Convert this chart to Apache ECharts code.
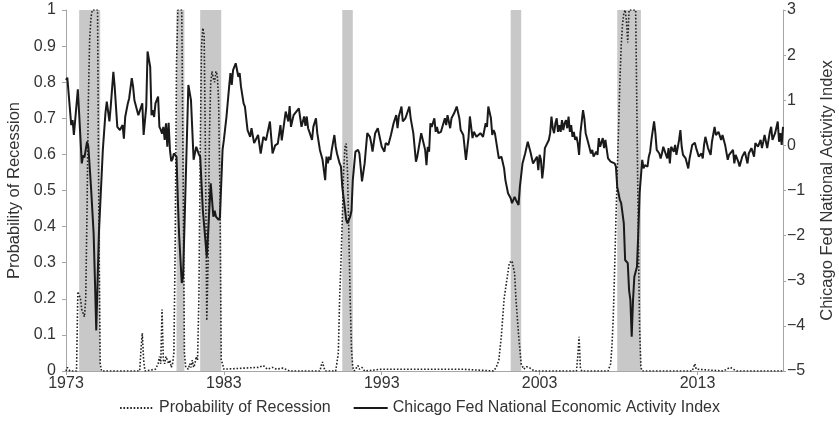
<!DOCTYPE html>
<html>
<head>
<meta charset="utf-8">
<script src="https://cdn.jsdelivr.net/npm/echarts@6/dist/echarts.min.js"></script>
<style>
html,body{margin:0;padding:0;background:#fff;}
#chart{width:839px;height:431px;}
</style>
</head>
<body>
<div id="chart"></div>
<script>
// Time is counted in months since January 1973 (0 = 1973-01).
const startYear = 1973;
const xTickYears = [1973, 1983, 1993, 2003, 2013];
const lastMonth = 545; // 2018-06

// Chicago Fed National Activity Index (right axis)
const cfnaiMonth = [0,1,4,5,6,9,12,13,14,16,17,19,21,22,23,25,28,30,31,33,34,36,37,39,41,43,44,45,47,48,50,51,52,55,56,58,59,61,62,64,65,66,67,68,70,71,72,73,74,75,76,77,78,79,80,81,82,83,84,85,86,88,89,93,95,97,99,101,102,104,107,108,110,112,113,114,116,117,119,120,122,124,125,126,127,129,131,132,133,135,136,138,140,141,143,146,148,150,152,155,157,159,161,163,164,167,169,170,171,173,177,179,181,182,183,184,185,187,188,190,191,193,195,197,198,199,200,201,202,204,205,206,208,209,210,213,214,216,217,218,220,222,223,225,227,229,231,232,233,235,237,240,242,243,245,247,249,251,252,253,255,256,258,261,262,264,266,267,268,270,271,273,274,275,276,277,278,280,281,282,283,285,288,289,290,292,293,295,297,299,300,302,304,306,307,309,310,312,315,317,319,320,321,323,324,325,326,329,331,333,334,336,338,339,341,342,344,345,347,349,351,353,355,356,358,359,360,361,362,363,364,365,367,368,369,370,371,372,373,374,375,376,377,378,379,380,381,382,383,384,385,386,387,388,389,390,391,393,394,395,397,399,400,401,403,404,405,406,408,409,410,412,414,415,417,418,419,421,422,424,425,427,428,429,430,431,432,434,435,436,438,439,440,442,443,444,445,447,448,449,451,452,453,454,455,457,458,459,460,462,463,464,466,467,468,469,471,473,474,476,478,479,481,483,484,485,486,488,490,491,493,494,495,496,498,499,501,503,504,505,507,508,509,511,512,514,516,518,519,521,523,524,526,528,529,530,531,533,535,536,537,539,541,542,543,544,545];
const cfnaiValue = [1.45,1.5,0.45,0.56,0.23,1.24,-0.4,-0.22,-0.27,0.08,-0.03,-0.92,-1.95,-3.0,-4.1,-1.95,-0.1,0.72,0.97,0.53,0.86,1.63,1.3,0.41,0.34,0.45,0.15,0.63,0.93,1.04,1.49,1.3,1.0,0.67,0.71,0.93,0.23,0.86,2.08,1.74,0.67,0.78,0.63,0.93,1.08,0.41,0.35,0.26,0.41,0.12,0.49,-0.03,0.5,-0.1,-0.35,-0.3,-0.18,-0.22,-0.25,-1.21,-2.0,-3.05,-2.9,1.34,1.0,-0.32,-0.03,-0.2,-0.25,-1.43,-2.47,-1.95,-0.84,-1.58,-1.45,-1.58,-1.65,-1.6,-0.1,0.12,0.64,1.3,1.6,1.34,1.67,1.82,1.52,1.6,1.3,0.93,0.86,0.34,0.19,0.38,0.05,0.23,-0.18,0.19,0.11,0.53,-0.18,0.0,0.04,0.45,0.11,0.75,0.53,0.87,0.41,0.67,0.82,0.41,0.64,0.43,0.64,0.38,0.30,0.12,0.41,0.6,0.27,-0.1,-0.32,-0.77,-0.25,-0.40,-0.25,-0.32,-0.1,0.23,-0.03,-0.18,-0.40,-0.47,-0.92,-1.65,-1.73,-1.58,-1.45,-0.77,-0.14,-0.1,-0.18,-0.8,-0.4,0.27,0.19,0.05,-0.14,0.27,0.38,-0.03,-0.14,0.05,0.01,0.23,0.49,0.67,0.38,0.64,0.86,0.53,0.6,0.86,0.6,0.27,-0.36,-0.25,-0.21,0.27,0.23,-0.1,-0.44,-0.03,-0.14,0.49,0.41,0.6,0.30,0.41,0.27,0.30,0.6,0.45,0.67,0.38,0.6,0.71,0.86,0.6,0.34,0.23,-0.32,0.19,0.64,0.16,0.30,0.19,0.27,0.19,0.49,0.41,0.86,0.6,0.23,0.34,0.27,-0.29,-0.25,-0.51,-0.77,-1.06,-1.17,-1.28,-1.14,-1.21,-1.32,-0.92,-0.40,-0.18,0.08,-0.14,-0.40,-0.36,-0.25,-0.55,-0.21,-0.32,-0.73,-0.47,-0.06,-0.1,0.12,0.27,0.64,0.38,0.27,0.49,0.6,0.30,0.45,0.30,0.56,0.34,0.49,0.56,0.38,0.64,0.30,0.45,0.19,0.30,0.12,0.19,0.05,-0.21,0.27,0.78,0.6,0.27,0.05,-0.18,-0.1,-0.25,-0.14,-0.21,0.16,-0.03,0.16,-0.06,0.12,-0.29,-0.36,-0.32,-0.4,-0.47,-0.92,-1.21,-1.28,-1.73,-2.54,-2.61,-3.21,-3.43,-4.24,-3.43,-2.91,-2.69,-1.95,-1.06,-0.32,-0.51,-0.44,-0.47,-0.25,-0.14,0.12,0.53,0.27,-0.1,-0.18,-0.29,-0.18,-0.03,0.01,-0.29,-0.06,-0.40,-0.03,-0.14,0.01,-0.21,0.12,0.34,-0.03,-0.21,-0.29,-0.51,-0.29,0.01,0.06,-0.06,-0.25,-0.18,-0.29,0.01,0.19,-0.06,-0.21,0.08,0.41,0.23,0.23,0.30,0.12,0.23,0.01,-0.32,-0.21,-0.25,-0.10,-0.40,-0.21,-0.36,-0.47,-0.25,-0.14,-0.40,-0.18,-0.06,-0.25,0.05,-0.03,0.12,-0.06,0.08,0.23,-0.06,0.30,0.41,0.12,0.27,0.53,0.08,0.27,0.01,0.41];

// Probability of Recession (left axis)
const probMonth = [0,1,2,3,8,9,10,11,12,13,14,15,16,17,18,19,20,24,25,26,27,56,57,58,59,60,68,69,70,71,72,73,74,75,76,77,78,79,80,81,82,83,84,85,88,89,90,91,93,94,95,96,97,98,99,100,101,102,103,104,105,106,107,108,109,110,111,112,113,114,115,116,117,118,119,120,121,146,150,153,157,160,165,170,193,194,195,196,197,205,206,207,208,209,210,211,212,213,214,215,216,217,218,219,222,223,225,227,240,250,301,325,327,329,331,333,335,337,339,341,342,343,344,346,348,350,352,354,356,388,389,390,391,392,412,413,414,415,416,417,418,419,420,421,422,423,424,425,426,427,428,433,434,435,436,437,438,476,477,478,479,480,500,502,505,507,510,545];
const probValue = [0,0.01,0.005,0,0,0.22,0.21,0.2,0.17,0.16,0.15,0.2,0.45,0.75,0.92,0.98,1,1,0.4,0.02,0,0,0.06,0.105,0.03,0,0.005,0.01,0.02,0.04,0.02,0.17,0.03,0.02,0.04,0.03,0.02,0.03,0.01,0.02,0.05,0.35,0.85,1,1,0.55,0.05,0.01,0.005,0.02,0.01,0.03,0.01,0.02,0.04,0.03,0.2,0.6,0.9,0.95,0.93,0.6,0.14,0.3,0.65,0.8,0.83,0.81,0.8,0.83,0.82,0.75,0.5,0.03,0.02,0.005,0,0.01,0.015,0.005,0.01,0.005,0.008,0,0,0.015,0.025,0.01,0,0,0.005,0.05,0.2,0.3,0.42,0.55,0.62,0.63,0.55,0.38,0.2,0.06,0.01,0,0.015,0.005,0.01,0,0.005,0.005,0.005,0,0.01,0.03,0.1,0.2,0.25,0.3,0.305,0.27,0.2,0.15,0.1,0.02,0.005,0.012,0.01,0.005,0,0,0.04,0.095,0.01,0,0,0.01,0.02,0.07,0.15,0.28,0.42,0.55,0.67,0.8,0.9,0.96,0.99,1,0.97,0.91,1,1,0.7,0.38,0.12,0.01,0,0,0.005,0.02,0.005,0,0,0.005,0.01,0.005,0,0];

// NBER recessions: [start month, end month]
const recessionStart = [10, 84, 102, 210, 338, 419];
const recessionEnd   = [26, 90, 118, 218, 346, 437];

const seriesNames = ['Probability of Recession', 'Chicago Fed National Economic Activity Index'];
const leftAxisName = 'Probability of Recession';
const rightAxisName = 'Chicago Fed National Activity Index';

const cfnaiData = cfnaiMonth.map((m, i) => [m, cfnaiValue[i]]);
const probData = probMonth.map((m, i) => [m, probValue[i]]);
const areas = recessionStart.map((s, i) => [{xAxis: s}, {xAxis: recessionEnd[i]}]);

const FONT = '"Liberation Sans", Arial, Helvetica, sans-serif';
const axisGray = '#a6a6a6';
const textColor = '#333';

const chart = echarts.init(document.getElementById('chart'), null, {renderer: 'canvas'});
chart.setOption({
  animation: false,
  backgroundColor: '#fff',
  textStyle: {fontFamily: FONT},
  grid: {left: 66, right: 56, top: 10, bottom: 60, containLabel: false, outerBoundsMode: 'none'},
  legend: {
    bottom: 10,
    left: 'center',
    itemWidth: 34,
    itemHeight: 10,
    itemGap: 22,
    itemStyle: {color: 'transparent', borderColor: 'transparent', borderWidth: 0, opacity: 0},
    textStyle: {fontSize: 16, color: textColor, fontFamily: FONT},
    data: seriesNames
  },
  xAxis: {
    type: 'value',
    min: 0,
    max: lastMonth,
    interval: 120,
    axisLine: {show: true, lineStyle: {color: axisGray, width: 1}},
    axisTick: {show: true, length: 4, lineStyle: {color: axisGray}},
    splitLine: {show: false},
    axisLabel: {
      fontSize: 16, color: textColor, margin: 5, fontFamily: FONT,
      showMaxLabel: false,
      formatter: v => {
        const y = startYear + v / 12;
        return xTickYears.indexOf(y) >= 0 ? String(y) : '';
      }
    }
  },
  yAxis: [
    {
      type: 'value', min: 0, max: 1, interval: 0.1, position: 'left',
      name: leftAxisName, nameLocation: 'middle', nameGap: 42, nameRotate: 90,
      nameTextStyle: {fontSize: 16.5, color: textColor, fontFamily: FONT},
      axisLine: {show: true, lineStyle: {color: axisGray}},
      axisTick: {show: true, length: 4, lineStyle: {color: axisGray}},
      splitLine: {show: false},
      axisLabel: {fontSize: 16, color: textColor, margin: 10, fontFamily: FONT,
        formatter: v => String(Number(v.toFixed(1)))}
    },
    {
      type: 'value', min: -5, max: 3, interval: 1, position: 'right',
      name: rightAxisName, nameLocation: 'middle', nameGap: 36, nameRotate: 90,
      nameTextStyle: {fontSize: 16.5, color: textColor, fontFamily: FONT},
      axisLine: {show: true, lineStyle: {color: axisGray}},
      axisTick: {show: true, length: 3, lineStyle: {color: axisGray}},
      splitLine: {show: false},
      axisLabel: {fontSize: 16, color: textColor, margin: 4, fontFamily: FONT,
        formatter: v => v < 0 ? '\u2212' + Math.abs(v) : String(v)}
    }
  ],
  series: [
    {
      name: seriesNames[0],
      type: 'line',
      yAxisIndex: 0,
      data: probData,
      showSymbol: false,
      symbol: 'none',
      z: 3,
      lineStyle: {color: '#222', width: 1.6, type: [1.6, 1.8]},
      itemStyle: {color: '#222'},
      markArea: {
        silent: true,
        z: 1,
        itemStyle: {color: '#c8c8c8', opacity: 1},
        data: areas
      }
    },
    {
      name: seriesNames[1],
      type: 'line',
      yAxisIndex: 1,
      data: cfnaiData,
      showSymbol: false,
      symbol: 'none',
      z: 4,
      lineStyle: {color: '#1a1a1a', width: 2},
      itemStyle: {color: '#1a1a1a'}
    }
  ]
});
</script>
</body>
</html>
